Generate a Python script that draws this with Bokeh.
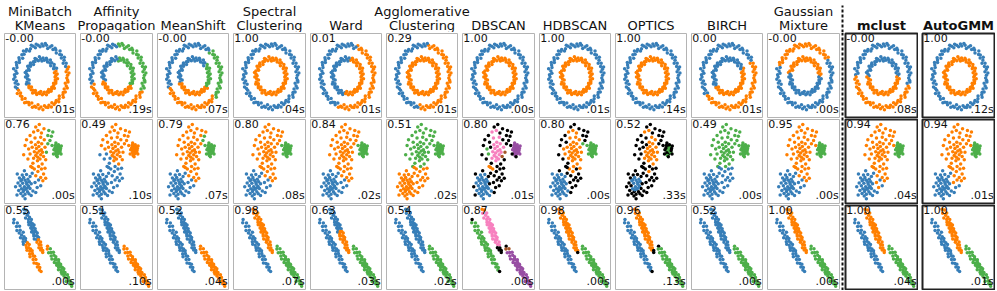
import numpy as np
from bokeh.plotting import figure
from bokeh.layouts import row, column
from bokeh.models import ColumnDataSource, Range1d, Span, Spacer
from bokeh.core.properties import value
from bokeh.embed import file_html
from bokeh.resources import INLINE

# ---------------------------------------------------------------- texts
TITLE_TOP = ["MiniBatch", "Affinity", "", "Spectral", "", "Agglomerative", "", "", "", "", "Gaussian", "", ""]
TITLE_BOTTOM = ["KMeans", "Propagation", "MeanShift", "Clustering", "Ward", "Clustering",
                "DBSCAN", "HDBSCAN", "OPTICS", "BIRCH", "Mixture", "mclust", "AutoGMM"]
HIGHLIGHT = [False] * 11 + [True, True]

SCORES_CIRCLES = ["-0.00", "-0.00", "-0.00", "1.00", "0.01", "0.29", "1.00", "1.00", "1.00", "0.00", "-0.00", "-0.00", "1.00"]
SCORES_BLOBS = ["0.76", "0.49", "0.79", "0.80", "0.84", "0.51", "0.80", "0.80", "0.52", "0.49", "0.95", "0.94", "0.94"]
SCORES_ANISO = ["0.55", "0.51", "0.52", "0.98", "0.63", "0.54", "0.87", "0.98", "0.96", "0.52", "1.00", "1.00", "1.00"]
TIMES_CIRCLES = [".01s", ".19s", ".07s", ".04s", ".01s", ".01s", ".00s", ".01s", ".14s", ".01s", ".00s", ".08s", ".12s"]
TIMES_BLOBS = [".00s", ".10s", ".07s", ".08s", ".02s", ".02s", ".01s", ".00s", ".33s", ".00s", ".00s", ".04s", ".01s"]
TIMES_ANISO = [".00s", ".10s", ".04s", ".07s", ".03s", ".02s", ".00s", ".00s", ".13s", ".00s", ".00s", ".04s", ".01s"]

PALETTE = ["#377eb8", "#ff7f00", "#4daf4a", "#f781bf", "#a65628", "#984ea3", "#999999", "#e41a1c", "#dede00"]
NOISE = "#000000"

# ---------------------------------------------------------------- dataset 1: noisy circles (polar)
CIRCLE_CENTER = (0.10, -0.05)
OUTER_ANGLE = [2, 6, 9, 13, 16, 19, 24, 27, 31, 35,
               38, 42, 45, 49, 53, 57, 60, 63, 68, 71,
               75, 79, 82, 86, 89, 93, 97, 101, 104, 108,
               111, 115, 119, 123, 126, 130, 133, 137, 141, 145,
               148, 152, 155, 159, 163, 167, 170, 174, 177, 181,
               185, 189, 192, 196, 199, 203, 207, 211, 214, 218,
               221, 225, 229, 233, 236, 240, 243, 247, 251, 255,
               258, 262, 265, 269, 273, 277, 280, 284, 287, 291,
               295, 298, 302, 306, 309, 313, 317, 321, 324, 328,
               331, 335, 339, 342, 346, 350, 353, 357]
OUTER_RADIUS = [1.84, 1.95, 1.76, 1.88, 1.99, 1.80, 1.91, 1.72, 1.86, 1.97,
                1.78, 1.90, 1.83, 2.00, 1.74, 1.87, 1.93, 1.79, 1.96, 1.85,
                1.71, 1.89, 1.98, 1.81, 1.92, 1.77, 1.86, 1.94, 1.75, 1.88,
                1.99, 1.82, 1.73, 1.91, 1.85, 1.97, 1.79, 1.88, 1.70, 1.93,
                1.84, 1.76, 1.95, 1.87, 1.80, 2.01, 1.83, 1.74, 1.90, 1.86,
                1.96, 1.78, 1.89, 1.72, 1.94, 1.85, 1.81, 1.98, 1.77, 1.88,
                1.83, 1.92, 1.75, 1.97, 1.86, 1.79, 1.90, 1.73, 1.95, 1.84,
                1.88, 1.71, 1.93, 1.82, 1.99, 1.76, 1.87, 1.91, 1.80, 1.96,
                1.74, 1.89, 1.85, 1.78, 1.94, 1.83, 1.72, 1.98, 1.87, 1.81,
                1.92, 1.77, 1.95, 1.84, 1.73, 1.90, 1.86, 1.79]
INNER_ANGLE = [3, 7, 13, 17, 24, 28, 32, 38, 44, 48,
               53, 57, 63, 68, 72, 78, 84, 88, 93, 97,
               103, 109, 113, 117, 123, 128, 134, 138, 142, 148,
               153, 157, 163, 169, 173, 178, 182, 188, 194, 198,
               203, 207, 213, 218, 222, 228, 234, 238, 243, 247,
               253, 259, 263, 267, 273, 278, 282, 288, 294, 298,
               303, 307, 313, 318, 322, 328, 334, 338, 343, 347,
               353, 358]
INNER_RADIUS = [1.02, 1.12, 0.94, 1.07, 1.17, 0.97, 1.05, 1.14, 0.91, 1.09,
                1.00, 1.16, 0.95, 1.06, 1.13, 0.98, 1.10, 0.92, 1.04, 1.18,
                0.96, 1.08, 1.15, 0.99, 1.03, 0.90, 1.11, 1.06, 0.97, 1.14,
                1.01, 0.93, 1.09, 1.16, 1.04, 0.96, 1.12, 1.00, 0.89, 1.07,
                1.15, 0.98, 1.05, 1.11, 0.94, 1.08, 1.02, 1.17, 0.95, 1.06,
                1.13, 0.99, 1.03, 0.91, 1.10, 1.04, 0.97, 1.15, 1.01, 1.08,
                0.93, 1.12, 1.05, 0.98, 1.16, 1.02, 0.95, 1.09, 1.06, 1.00,
                1.14, 0.96]

# per method: (outer ring, inner ring); each = (default label, [(from_deg, to_deg, label), ...])
CIRCLE_LABELS = [
    ((1, [(19, 204, 0)]), (1, [(18, 208, 0)])),
    ((1, [(0, 90, 2), (332, 360, 2), (90, 195, 0)]), (1, [(0, 92, 2), (330, 360, 2), (92, 196, 0)])),
    ((1, [(0, 55, 2), (320, 360, 2), (55, 200, 0)]), (1, [(0, 40, 2), (325, 360, 2), (40, 200, 0)])),
    ((0, []), (1, [])),
    ((1, [(70, 250, 0)]), (1, [(80, 260, 0)])),
    ((1, [(80, 260, 0)]), (1, [])),
    ((0, []), (1, [])),
    ((0, []), (1, [])),
    ((0, []), (1, [])),
    ((1, [(30, 215, 0)]), (1, [(25, 215, 0)])),
    ((0, [(35, 160, 1)]), (0, [(0, 172, 1)])),
    ((1, [(0, 180, 0), (345, 360, 0)]), (1, [(0, 180, 0)])),
    ((0, []), (1, [])),
]

# ---------------------------------------------------------------- dataset 2: blobs of varied variance
BLUE_CORE = [(-1.25, -0.80), (-0.95, -0.78), (-0.70, -0.90), (-1.45, -0.98), (-1.15, -0.95),
             (-0.85, -1.05), (-1.35, -1.15), (-1.05, -1.12), (-0.75, -1.20), (-1.55, -1.28),
             (-1.22, -1.30), (-0.92, -1.35), (-0.62, -1.32), (-1.40, -1.45), (-1.10, -1.50),
             (-0.80, -1.48), (-1.30, -1.62), (-1.00, -1.65), (-0.70, -1.60), (-1.50, -1.72),
             (-1.18, -1.78), (-0.88, -1.80), (-1.35, -1.90), (-1.05, -1.95), (-0.78, -1.92),
             (-1.20, -2.05), (-0.95, -1.25), (-1.28, -1.08), (-1.15, -1.68), (-0.90, -1.58)]
BLUE_EDGE = [(-1.60, -0.75), (-1.10, -0.55), (-0.55, -0.70), (-1.72, -1.50),
             (-1.62, -2.00), (-0.62, -2.02), (-1.05, -2.22), (-0.50, -1.75)]
BLUE_RIGHT = [(-0.35, -1.25), (-0.20, -1.55), (-0.10, -1.10), (-0.30, -1.85), (0.05, -1.45)]
ORANGE_CORE = [(-0.20, 0.50), (-0.05, 0.62), (-0.30, 0.35), (0.05, 0.40), (-0.15, 0.25),
               (-0.40, 0.58), (0.10, 0.70), (-0.25, 0.78), (-0.08, 0.90), (0.18, 0.55),
               (-0.45, 0.20), (0.00, 0.15), (-0.32, 1.00), (0.12, 1.05), (-0.12, 1.15),
               (0.25, 0.30), (-0.55, 0.85), (-0.18, 0.05)]
ORANGE_MID = [(-0.70, 0.45), (-0.62, 1.15), (0.35, 0.85), (0.40, 0.10), (-0.50, -0.10),
              (0.15, -0.15), (-0.80, 0.75), (0.30, 1.30), (-0.35, 1.40), (0.05, 1.45),
              (-0.85, 0.15), (0.45, 0.55), (-0.10, -0.30), (-0.65, -0.30), (-1.05, 0.95),
              (-1.15, 0.40)]
ORANGE_TOP = [(-0.45, 1.75), (-0.15, 1.85), (0.10, 1.70), (-0.70, 1.55),
              (0.28, 1.95), (-0.30, 2.05), (-0.95, 1.30), (-0.05, 2.20)]
ORANGE_UPRIGHT = [(0.55, 1.55), (0.70, 1.25), (0.62, 1.85), (0.80, 1.50), (0.55, 1.05), (0.85, 0.95), (0.90, 1.75)]
ORANGE_LOW = [(-0.40, -0.45), (-0.15, -0.60), (0.10, -0.45), (-0.30, -0.85), (0.25, -0.75),
              (0.40, -1.00), (0.05, -0.95), (-0.55, -0.35), (0.35, -0.40), (0.20, -1.15)]
GREEN_CORE = [(1.20, 0.60), (1.30, 0.70), (1.15, 0.75), (1.25, 0.55), (1.35, 0.62),
              (1.22, 0.82), (1.10, 0.65), (1.32, 0.80), (1.28, 0.48), (1.18, 0.90),
              (1.38, 0.72), (1.12, 0.52), (1.40, 0.55), (1.25, 0.95), (1.05, 0.80),
              (1.35, 0.88), (1.20, 0.42), (1.42, 0.65), (1.15, 0.35), (1.30, 1.00),
              (1.08, 0.95), (1.45, 0.78)]
GREEN_EDGE = [(0.98, 0.70), (1.22, 0.28), (1.50, 0.92), (1.12, 1.10), (0.95, 0.45), (1.48, 0.45)]
BLOB_GROUPS = [BLUE_CORE, BLUE_EDGE, BLUE_RIGHT, ORANGE_CORE, ORANGE_MID, ORANGE_TOP,
               ORANGE_UPRIGHT, ORANGE_LOW, GREEN_CORE, GREEN_EDGE]

# labels per method, per group above (int = whole group, string = per point, n = noise)
BLOB_LABELS = [
    [0, 0, 0, 1, "1111111111 121111", 1, 2, 1, 2, 2],
    [0, 0, 0, "1111111111 01111111", "0111011111 010010", 1, 1, 0, 1, 1],
    [0, 0, 0, 1, 1, 1, "1212121", 1, 2, 2],
    [0, 0, 0, 1, 1, 1, "1111121", 1, 2, 2],
    [0, 0, 0, 1, 1, 1, "1111121", 1, 2, 2],
    [1, 1, 1, 2, 2, 2, 2, 1, 2, 2],
    ["00n0000000 00n0000000 0000000000", "nnnnn000", "nnnnn", "3333333333 333334n3",
     "2n3nnn2n33 n4n1nn", "33nnnnnn", "nnnnnnn", "1nnnnnn1nn", 5, "5n55n5"],
    [0, "0nn00000", "nnnnn", 1, "1n11n11111 n11nnn", "111nnnnn", "nnnn22n", "11nnnnnn1n", 2, 2],
    ["nnnn00000n 00nn0000nn nnnnnn0000", "nnnnnnnn", "nnnnn", "1111111111 11n111n1",
     "nn11n1n1n1 n1nnnn", "11nnnnnn", "nnnnnnn", "n1nnnnnnnn", "2222222222 2n2nn2nn2nnn", "nnnnnn"],
    [0, 0, 0, 2, 2, 2, 2, 0, 2, 2],
    [0, 0, 0, 1, 1, 1, 1, 1, 2, 2],
    [0, 0, "11000", 1, 1, 1, 1, 1, 2, 2],
    [0, 0, "10100", 1, 1, 1, 1, 1, 2, 2],
]

# ---------------------------------------------------------------- dataset 3: anisotropic blobs
# each cluster lies along a segment; points given as (position along, offset across)
ANISO_ENDS = [((-1.85, 1.65), (0.05, -1.45)),
              ((-1.10, 2.30), (0.20, -0.30)),
              ((0.50, 0.05), (2.25, -2.30))]
ANISO_T = [0.00, 0.04, 0.08, 0.12, 0.15, 0.18, 0.21, 0.24, 0.27, 0.29,
           0.32, 0.34, 0.36, 0.38, 0.40, 0.42, 0.44, 0.46, 0.48, 0.50,
           0.52, 0.54, 0.56, 0.58, 0.60, 0.62, 0.64, 0.66, 0.68, 0.70,
           0.72, 0.75, 0.78, 0.81, 0.84, 0.87, 0.90, 0.93, 0.96, 1.00]
ANISO_S = [
    [0.02, -0.10, 0.12, -0.04, 0.15, -0.14, 0.06, -0.08, 0.18, 0.00,
     -0.16, 0.09, -0.03, 0.13, -0.12, 0.05, -0.18, 0.11, -0.06, 0.16,
     -0.09, 0.03, -0.15, 0.10, -0.01, 0.14, -0.11, 0.07, -0.17, 0.04,
     0.12, -0.07, 0.09, -0.13, 0.01, 0.10, -0.05, 0.08, -0.02, 0.03],
    [-0.05, 0.08, -0.12, 0.14, 0.01, -0.17, 0.10, -0.03, 0.16, -0.09,
     0.05, -0.14, 0.12, -0.01, 0.18, -0.11, 0.07, -0.06, 0.15, -0.16,
     0.02, 0.11, -0.08, 0.17, -0.13, 0.04, 0.09, -0.18, 0.13, -0.04,
     0.06, -0.10, 0.14, -0.02, 0.08, -0.12, 0.03, -0.07, 0.05, -0.01],
    [0.04, -0.07, 0.11, -0.13, 0.02, 0.16, -0.10, 0.08, -0.17, 0.13,
     -0.02, 0.06, -0.15, 0.18, -0.05, 0.10, -0.12, 0.01, 0.14, -0.08,
     0.07, -0.18, 0.12, -0.03, 0.16, -0.11, 0.05, -0.14, 0.09, 0.00,
     -0.09, 0.15, -0.06, 0.11, -0.16, 0.03, 0.08, -0.04, 0.06, -0.02],
]
ANISO_LABELS = [
    ["0000000000 0000000111 1111111111 1111111111",
     "0000000000 0000000000 0000000000 1111111111",
     "1122222222 2222222222 2222222222 2222222222"],
    [0, 0, 1],
    [0, 0, 1],
    [0, 1, 2],
    [0, "0000000000 0000000000 1111111111 1111111111", 2],
    [0, 0, 2],
    ["n222222222 2222222222 2222222222 222222222n",
     "1133333333 3333333333 3333333333 33333nnnnn",
     "n445555555 5555555555 5555555555 5555555555"],
    [0, "1111111111 1111111111 1111111111 111111111n", 2],
    ["0000000000 0000000000 0000000000 000000000n",
     "1111111111 1111111111 1111111111 11111111nn",
     "n222222222 2222222222 2222222222 2222222222"],
    [0, 0, 2],
    [0, 1, 2],
    [0, 1, 2],
    [0, 1, 2],
]

# ---------------------------------------------------------------- layout constants (pixels)
LEFT_PAD = 3
COL_W = [73, 74, 73, 74, 73, 73, 74, 73, 73, 73, 74, 74, 74]
PH = 86                  # panel canvas height
GAP = 3                  # gap between columns
DIV_W = 4                # width of dashed divider strip
HH = 32                  # header height
N_LEFT = 11
LEFT_W = sum(COL_W[:N_LEFT]) + (N_LEFT - 1) * GAP
RIGHT_W = sum(COL_W[N_LEFT:]) + GAP
TOTAL_W = LEFT_PAD + LEFT_W + DIV_W + RIGHT_W
FONT = "DejaVu Sans"


def expand(spec, n):
    if isinstance(spec, int):
        return [spec] * n
    s = spec.replace(" ", "")
    assert len(s) == n, (spec, n, len(s))
    return [-1 if c == "n" else int(c) for c in s]


def ring_labels(angles, spec):
    default, segs = spec
    out = []
    for a in angles:
        lab = default
        for lo, hi, l in segs:
            if lo <= a < hi:
                lab = l
        out.append(lab)
    return out


def circles_data(k):
    cx, cy = CIRCLE_CENTER
    ao = np.radians(OUTER_ANGLE)
    ai = np.radians(INNER_ANGLE)
    ro = np.array(OUTER_RADIUS)
    ri = np.array(INNER_RADIUS)
    assert len(ao) == len(ro) and len(ai) == len(ri)
    x = np.concatenate([cx + ro * np.cos(ao), cx + ri * np.cos(ai)])
    y = np.concatenate([cy + ro * np.sin(ao), cy + ri * np.sin(ai)])
    lab = ring_labels(OUTER_ANGLE, CIRCLE_LABELS[k][0]) + ring_labels(INNER_ANGLE, CIRCLE_LABELS[k][1])
    return x, y, lab


def blobs_data(k):
    xs, ys, lab = [], [], []
    for grp, spec in zip(BLOB_GROUPS, BLOB_LABELS[k]):
        xs += [p[0] for p in grp]
        ys += [p[1] for p in grp]
        lab += expand(spec, len(grp))
    return np.array(xs), np.array(ys), lab


def aniso_data(k):
    xs, ys, lab = [], [], []
    t = np.array(ANISO_T)
    for (p0, p1), s, spec in zip(ANISO_ENDS, ANISO_S, ANISO_LABELS[k]):
        d = np.array(p1) - np.array(p0)
        nrm = np.array([-d[1], d[0]]) / np.hypot(*d)
        s = np.array(s)
        xs += list(p0[0] + t * d[0] + s * nrm[0])
        ys += list(p0[1] + t * d[1] + s * nrm[1])
        lab += expand(spec, len(t))
    return np.array(xs), np.array(ys), lab


def bare_figure(**kw):
    p = figure(x_axis_type=None, y_axis_type=None, output_backend="svg",
               toolbar_location=None, **kw)
    p.title.visible = False
    p.xgrid.visible = False
    p.ygrid.visible = False
    return p


def panel(w, x, y, lab, score, tm, strong):
    colors = [NOISE if l < 0 else PALETTE[l] for l in lab]
    p = bare_figure(width=w, height=PH, x_range=Range1d(-2.5, 2.5), y_range=Range1d(-2.5, 2.5),
                    min_border=1)
    p.outline_line_color = "#222222" if strong else "#b4b4b4"
    p.outline_line_width = 2 if strong else 1
    src = ColumnDataSource(dict(x=x, y=y, c=colors))
    p.scatter("x", "y", source=src, size=3.5, fill_color="c", line_color=None)
    p.text(x=[-2.44], y=[2.47], text=[score], text_align="left", text_baseline="top",
           text_font=value(FONT), text_font_size="11px", text_color="#111111")
    p.text(x=[2.45], y=[-2.44], text=[tm], text_align="right", text_baseline="bottom",
           text_font=value(FONT), text_font_size="11px", text_color="#111111")
    return p


cols = []
for k in range(13):
    strong = HIGHLIGHT[k]
    w = COL_W[k]
    cols.append(column(
        panel(w, *circles_data(k), SCORES_CIRCLES[k], TIMES_CIRCLES[k], strong),
        panel(w, *blobs_data(k), SCORES_BLOBS[k], TIMES_BLOBS[k], strong),
        panel(w, *aniso_data(k), SCORES_ANISO[k], TIMES_ANISO[k], strong),
        spacing=0))

left = row(*cols[:N_LEFT], spacing=GAP)
right = row(*cols[N_LEFT:], spacing=GAP)

# dashed divider strip
div = bare_figure(width=DIV_W, height=3 * PH, x_range=Range1d(0, DIV_W), y_range=Range1d(0, 1),
                  min_border=0)
div.outline_line_color = None
div.add_layout(Span(location=DIV_W / 2, dimension="height", line_color="#111111",
                    line_width=2, line_dash="3 2"))

# header with column titles
centers = []
x0 = LEFT_PAD
for k in range(13):
    if k == N_LEFT:
        x0 = LEFT_PAD + LEFT_W + DIV_W
    centers.append(x0 + COL_W[k] / 2)
    x0 += COL_W[k] + GAP

hdr = bare_figure(width=TOTAL_W, height=HH, x_range=Range1d(0, TOTAL_W), y_range=Range1d(0, HH),
                  min_border=0)
hdr.outline_line_color = None
norm = [k for k in range(13) if not HIGHLIGHT[k]]
bold = [k for k in range(13) if HIGHLIGHT[k]]
for idx, style in ((norm, "normal"), (bold, "bold")):
    top_idx = [k for k in idx if TITLE_TOP[k]]
    if top_idx:
        hdr.text(x=[centers[k] for k in top_idx], y=[21.5] * len(top_idx),
                 text=[TITLE_TOP[k] for k in top_idx],
                 text_align="center", text_baseline="alphabetic", text_font=value(FONT),
                 text_font_size="13px", text_font_style=style, text_color="#111111")
    hdr.text(x=[centers[k] for k in idx], y=[7.5] * len(idx), text=[TITLE_BOTTOM[k] for k in idx],
             text_align="center", text_baseline="alphabetic", text_font=value(FONT),
             text_font_size="13px", text_font_style=style, text_color="#111111")
xd = LEFT_PAD + LEFT_W + DIV_W / 2
hdr.segment(x0=[xd], y0=[0], x1=[xd], y1=[HH - 5],
            line_color="#111111", line_width=2, line_dash="3 2")

body = row(Spacer(width=LEFT_PAD, height=3 * PH), left, div, right, spacing=0)
page = column(hdr, body, spacing=0)
open("out.html", "w").write(file_html(page, INLINE))
